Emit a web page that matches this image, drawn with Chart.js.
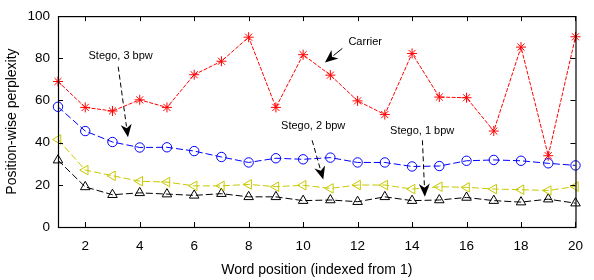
<!DOCTYPE html>
<html>
<head>
<meta charset="utf-8">
<script src="https://cdn.jsdelivr.net/npm/chart.js@4.4.1/dist/chart.umd.min.js"></script>
<style>
html,body{margin:0;padding:0;background:#fff;}
#wrap{width:594px;height:280px;position:relative;}
</style>
</head>
<body>
<div id="wrap"><canvas id="c" width="594" height="280"></canvas></div>
<script>
const positions = [1,2,3,4,5,6,7,8,9,10,11,12,13,14,15,16,17,18,19,20];
const carrier = [69,56.7,55,60.3,56.7,72.2,78.6,90,56.7,81.7,72,59.8,53.3,82.3,61.6,61.3,45.5,85.3,33.8,90.2];
const stego3 = [57,45.5,40.3,37.7,37.8,36,33.2,30.6,32.6,32.1,32.9,30.6,30.6,28.7,28.9,31.4,31.8,31.4,30.2,29.2];
const stego2 = [41.5,27,24.3,21.7,21.3,19.5,19.5,20.2,19.1,19.8,18.3,19.9,19.9,18,19.1,18.8,18,17.7,17.3,19.2];
const stego1 = [31.7,19,15.3,16.2,15.6,15,15.8,14.3,14.3,12.5,12.8,12,14.3,12.5,12.8,14,12.5,11.8,13.2,11.3];
const xTicks = [2,4,6,8,10,12,14,16,18,20];
const yTicks = [0,20,40,60,80,100];
const seriesNames = ['Carrier','Stego, 3 bpw','Stego, 2 bpw','Stego, 1 bpw'];
// annotations in data coordinates: [label, textX, textY, arrowFromX, arrowFromY, arrowToX, arrowToY, dashed]
const notes = [
  ['Stego, 3 bpw', 3.30, 81.3, 3.21, 76.0, 3.57, 42.5, true],
  ['Carrier', 12.28, 87.5, 11.44, 84.7, 10.80, 78.0, false],
  ['Stego, 2 bpw', 10.37, 47.8, 10.33, 41.1, 10.74, 22.5, true],
  ['Stego, 1 bpw', 14.37, 45.5, 14.38, 41.1, 14.47, 14.3, true]
];

const pts = arr => positions.map((x,i)=>({x:x,y:arr[i]}));
const FONT = '"Liberation Sans", Arial, sans-serif';

const framePlugin = {
  id:'frame',
  afterDatasetsDraw(chart){
    const ctx = chart.ctx, a = chart.chartArea;
    const xs = chart.scales.x, ys = chart.scales.y;
    ctx.save();
    ctx.strokeStyle = '#000';
    ctx.lineWidth = 1.2;
    ctx.setLineDash([]);
    ctx.strokeRect(a.left+0.5, a.top+0.5, a.right-a.left, a.bottom-a.top);
    ctx.lineWidth = 1;
    const tl = 5;
    xTicks.forEach(v=>{
      const px = Math.round(xs.getPixelForValue(v))+0.5;
      ctx.beginPath();
      ctx.moveTo(px,a.bottom); ctx.lineTo(px,a.bottom-tl);
      ctx.moveTo(px,a.top); ctx.lineTo(px,a.top+tl);
      ctx.stroke();
    });
    yTicks.forEach(v=>{
      const py = Math.round(ys.getPixelForValue(v))+0.5;
      ctx.beginPath();
      ctx.moveTo(a.left,py); ctx.lineTo(a.left+tl,py);
      ctx.moveTo(a.right,py); ctx.lineTo(a.right-tl,py);
      ctx.stroke();
    });
    // annotations
    notes.forEach(n=>{
      const [label,tx,ty,fx,fy,ax,ay,dashed] = n;
      const X = v=>xs.getPixelForValue(v), Y = v=>ys.getPixelForValue(v);
      ctx.fillStyle = '#000';
      ctx.font = '11px ' + FONT;
      ctx.textAlign='center'; ctx.textBaseline='middle';
      ctx.fillText(label, X(tx), Y(ty));
      const x0=X(fx), y0=Y(fy), x1=X(ax), y1=Y(ay);
      const ang = Math.atan2(y1-y0, x1-x0);
      const hl = 13, hw = 5.5;
      const bx = x1 - hl*Math.cos(ang), by = y1 - hl*Math.sin(ang);
      ctx.strokeStyle='#000'; ctx.lineWidth=1;
      ctx.setLineDash(dashed ? [5,3] : []);
      ctx.beginPath(); ctx.moveTo(x0,y0); ctx.lineTo(bx+2*Math.cos(ang),by+2*Math.sin(ang)); ctx.stroke();
      ctx.setLineDash([]);
      const nx = -Math.sin(ang), ny = Math.cos(ang);
      const nbx = x1 - 0.7*hl*Math.cos(ang), nby = y1 - 0.7*hl*Math.sin(ang);
      ctx.beginPath();
      ctx.moveTo(x1,y1);
      ctx.lineTo(bx+nx*hw, by+ny*hw);
      ctx.lineTo(nbx, nby);
      ctx.lineTo(bx-nx*hw, by-ny*hw);
      ctx.closePath(); ctx.fill();
    });
    ctx.restore();
  }
};

new Chart(document.getElementById('c'), {
  type:'line',
  data:{
    datasets:[
      {label:seriesNames[0], data:pts(carrier), borderColor:'#ff0000', backgroundColor:'#ff0000',
       pointStyle:'star', pointRadius:5, pointBorderWidth:1, pointBorderColor:'#ff0000', borderWidth:1, borderDash:[4,1.5], clip:false},
      {label:seriesNames[1], data:pts(stego3), borderColor:'#0000ff', pointBackgroundColor:'rgba(0,0,0,0)',
       pointStyle:'circle', pointRadius:4.7, pointBorderWidth:1, pointBorderColor:'#0000ff', borderWidth:1, borderDash:[7,3], clip:false},
      {label:seriesNames[2], data:pts(stego2), borderColor:'#c8c800', pointBackgroundColor:'rgba(0,0,0,0)',
       pointStyle:'triangle', rotation:-90, pointRadius:5.5, pointBorderWidth:1, pointBorderColor:'#c8c800', borderWidth:1, borderDash:[7,3], clip:false},
      {label:seriesNames[3], data:pts(stego1), borderColor:'#000000', pointBackgroundColor:'rgba(0,0,0,0)',
       pointStyle:'triangle', pointRadius:5.5, pointBorderWidth:1, pointBorderColor:'#000000', borderWidth:1, borderDash:[7,3], clip:false}
    ]
  },
  options:{
    responsive:false, animation:false, devicePixelRatio:1,
    layout:{padding:{left:0,right:9,top:3,bottom:0}},
    plugins:{legend:{display:false}, tooltip:{enabled:false}},
    elements:{line:{tension:0}},
    scales:{
      x:{type:'linear', min:1, max:20,
        afterBuildTicks: s=>{ s.ticks = xTicks.map(v=>({value:v})); },
        afterFit: s=>{ s.height = 53; },
        grid:{display:false, drawTicks:false}, border:{display:false},
        ticks:{padding:11, color:'#000', font:{family:FONT, size:13.5}},
        title:{display:true, text:'Word position (indexed from 1)', color:'#000', font:{family:FONT,size:14}, padding:{top:0,bottom:1}}
      },
      y:{type:'linear', min:0, max:100,
        afterBuildTicks: s=>{ s.ticks = yTicks.map(v=>({value:v})); },
        afterFit: s=>{ s.width = 58; },
        grid:{display:false, drawTicks:false}, border:{display:false},
        ticks:{padding:8, color:'#000', font:{family:FONT, size:13.5}},
        title:{display:true, text:'Position-wise perplexity', color:'#000', font:{family:FONT,size:14}, padding:{top:4,bottom:0}}
      }
    }
  },
  plugins:[framePlugin]
});
</script>
</body>
</html>
